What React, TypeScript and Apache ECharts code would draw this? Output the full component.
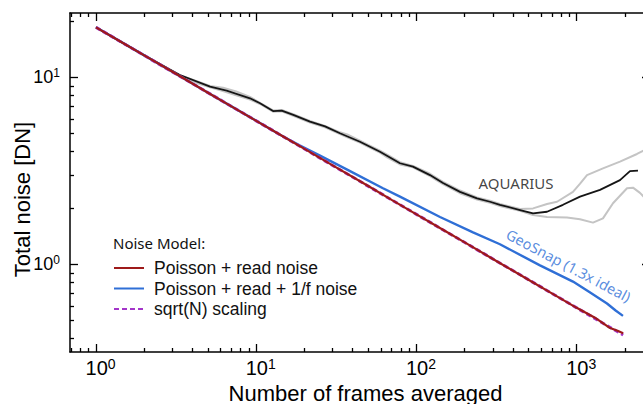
import React, { useEffect, useRef } from "react";
import * as echarts from "echarts";

// ---------- data ----------
const poissonN = [1, 1.5, 2, 3, 5, 7, 10, 15, 20, 30, 50, 70, 100, 150, 200, 300, 500, 700, 1000, 1300, 1600, 1800, 1950];
const poissonV = [18.5, 15.1, 13.1, 10.7, 8.27, 6.99, 5.85, 4.78, 4.14, 3.38, 2.62, 2.21, 1.85, 1.51, 1.31, 1.068, 0.827, 0.699, 0.585, 0.518, 0.458, 0.441, 0.428];

const sqrtN = [1, 10, 100, 1000, 1950];
const sqrtV = [18.5, 5.85, 1.85, 0.585, 0.419];

const oneOverFN = [1, 2, 3.34, 5, 7, 10, 14.07, 18.76, 25, 38.5, 61.8, 78.9, 140.3, 225.4, 332, 590, 948, 1200, 1546, 1750, 1945];
const oneOverFV = [18.5, 13.1, 10.12, 8.27, 6.99, 5.85, 4.93, 4.32, 3.81, 3.15, 2.55, 2.3, 1.79, 1.48, 1.28, 0.987, 0.808, 0.71, 0.617, 0.566, 0.53];

const aquariusN = [1, 2, 3.34, 5.15, 6.54, 9.14, 10.56, 12.73, 14.42, 17.03, 21.65, 26.87, 33.3, 44.4, 59.2, 78.9, 95.1, 121.5, 146.4, 187, 238.7, 287.7, 332, 443, 534, 653, 821, 1049, 1398, 1863, 2151, 2413];
const aquariusV = [18.5, 13.1, 10.29, 8.91, 8.48, 7.72, 7.26, 6.6, 6.64, 6.29, 5.79, 5.46, 5.02, 4.52, 4.0, 3.47, 3.33, 3.0, 2.72, 2.44, 2.25, 2.16, 2.08, 1.95, 1.87, 1.91, 2.08, 2.3, 2.5, 2.82, 3.15, 3.17];

const aquariusHiN = [1, 2, 3.34, 4.3, 5.15, 6.2, 7.5, 9.14, 10.56, 12.73, 14.42, 17.03, 21.65, 26.87, 33.3, 37, 44.4, 50, 59.2, 66, 78.9, 95.1, 121.5, 146.4, 187, 238.7, 287.7, 332, 443, 534, 653, 754, 948, 1050, 1160, 1459, 1863, 2379, 2669];
const aquariusHiV = [18.5, 13.1, 10.25, 9.5, 8.98, 8.8, 8.4, 7.85, 7.3, 6.65, 6.68, 6.35, 5.85, 5.5, 5.08, 4.95, 4.58, 4.35, 4.05, 3.85, 3.52, 3.36, 3.05, 2.76, 2.48, 2.28, 2.19, 2.1, 1.975, 1.99, 2.1, 2.16, 2.44, 2.7, 3.0, 3.26, 3.54, 3.89, 4.09];

const aquariusLoN = [1, 2, 3.34, 4.3, 5.15, 6.2, 7.5, 9.14, 10.56, 12.73, 14.42, 17.03, 21.65, 26.87, 33.3, 37, 44.4, 50, 59.2, 66, 78.9, 95.1, 121.5, 146.4, 187, 238.7, 287.7, 332, 443, 534, 653, 870, 1049, 1264, 1459, 1685, 2061, 2246, 2483, 2669];
const aquariusLoV = [18.5, 13.05, 10.15, 9.3, 8.85, 8.45, 8.0, 7.6, 7.2, 6.55, 6.58, 6.22, 5.72, 5.4, 4.97, 4.78, 4.47, 4.25, 3.95, 3.72, 3.42, 3.3, 2.96, 2.68, 2.4, 2.22, 2.13, 2.05, 1.93, 1.835, 1.79, 1.78, 1.74, 1.67, 1.76, 2.12, 2.55, 2.57, 2.41, 2.26];

// annotation anchors (data coordinates)
const aquariusLabelAt = [418, 2.72];
const geoSnapLabelAt = [889, 0.985];

// ticks
const xMajorTicks = [1, 10, 100, 1000];
const xMinorTicks = [0.7, 0.8, 0.9, 2, 3, 4, 5, 6, 7, 8, 9, 20, 30, 40, 50, 60, 70, 80, 90, 200, 300, 400, 500, 600, 700, 800, 900, 2000];
const yMajorTicks = [1, 10];
const yMinorTicks = [0.4, 0.5, 0.6, 0.7, 0.8, 0.9, 2, 3, 4, 5, 6, 7, 8, 9, 20];

const legendNames = ["Poisson + read noise", "Poisson + read + 1/f noise", "sqrt(N) scaling"];

const X_MIN = 0.688;
const X_MAX = 2868;
const Y_MIN = 0.3396;
const Y_MAX = 22.07;

const RED = "#9e1a1a";
const BLUE = "#2f6fd6";
const PURPLE = "#a335c9";

const FONT = "'Liberation Sans', Arial, sans-serif";
const NOTO = "'Noto Sans', 'Open Sans', sans-serif";

const zip = (a: number[], b: number[]) => a.map((v, i) => [v, b[i]]);
const expOf = (v: number) => Math.round(Math.log10(v));

function makeAxis(dim: "x" | "y", position: string, ticks: number[], len: number, showLine: boolean, labels: boolean): any {
  const isX = dim === "x";
  return {
    type: "log",
    logBase: 10,
    position,
    min: isX ? X_MIN : Y_MIN,
    max: isX ? X_MAX : Y_MAX,
    axisLine: { show: showLine, onZero: false, lineStyle: { color: "#000", width: 1.5 } },
    axisTick: {
      show: true,
      inside: true,
      length: len,
      customValues: ticks,
      lineStyle: { color: "#000", width: 1.3 },
    },
    minorTick: { show: false },
    splitLine: { show: false },
    minorSplitLine: { show: false },
    axisLabel: labels
      ? {
          show: true,
          customValues: ticks,
          margin: isX ? 5 : 10,
          color: "#000",
          formatter: (v: number) => (isX ? `{p|}{b|10}{s|${expOf(v)}}` : `{b|10}{s|${expOf(v)}}`),
          rich: isX
            ? {
                p: { width: 9 },
                b: { fontSize: 20, fontFamily: FONT, color: "#000", lineHeight: 22 },
                s: { fontSize: 14, fontFamily: FONT, color: "#000", verticalAlign: "top", lineHeight: 14 },
              }
            : {
                b: { fontSize: 18, fontFamily: FONT, color: "#000", lineHeight: 20 },
                s: { fontSize: 12, fontFamily: FONT, color: "#000", verticalAlign: "top", lineHeight: 12 },
              },
        }
      : { show: false },
  };
}

export default function App() {
  const ref = useRef<HTMLDivElement>(null);

  useEffect(() => {
    if (!ref.current) return;
    const chart = echarts.init(ref.current, undefined, { renderer: "svg" });

    const option: any = {
      animation: false,
      backgroundColor: "#fff",
      grid: { left: 70, top: 13, width: 580, height: 339, containLabel: false, outerBoundsMode: "none" },
      xAxis: [
        makeAxis("x", "bottom", xMajorTicks, 8, true, true),
        makeAxis("x", "bottom", xMinorTicks, 4, false, false),
        makeAxis("x", "top", xMajorTicks, 8, true, false),
        makeAxis("x", "top", xMinorTicks, 4, false, false),
      ],
      yAxis: [
        makeAxis("y", "left", yMajorTicks, 8, true, true),
        makeAxis("y", "left", yMinorTicks, 4, false, false),
        makeAxis("y", "right", yMajorTicks, 8, true, false),
        makeAxis("y", "right", yMinorTicks, 4, false, false),
      ],
      legend: {
        orient: "vertical",
        left: 113,
        top: 259,
        padding: 0,
        itemWidth: 30,
        itemHeight: 14,
        itemGap: 2.5,
        selectedMode: false,
        data: legendNames,
        itemStyle: { opacity: 0 },
        textStyle: { fontSize: 17.5, fontFamily: FONT, color: "#111", lineHeight: 14, padding: [0, 0, 0, 5] },
      },
      graphic: [
        {
          type: "text",
          x: 113,
          y: 243,
          style: { text: "Noise Model:", fontSize: 15, fontFamily: NOTO, fill: "#111", textVerticalAlign: "middle", textAlign: "left" },
        },
        {
          type: "text",
          x: 365.5,
          y: 393,
          style: { text: "Number of frames averaged", fontSize: 22, fontFamily: FONT, fill: "#000", textAlign: "center", textVerticalAlign: "middle" },
        },
        {
          type: "text",
          x: 22,
          y: 199.5,
          rotation: Math.PI / 2,
          style: { text: "Total noise [DN]", fontSize: 22, fontFamily: FONT, fill: "#000", textAlign: "center", textVerticalAlign: "middle" },
        },
      ],
      series: [
        {
          name: "AQUARIUS upper",
          type: "line",
          data: zip(aquariusHiN, aquariusHiV),
          symbol: "none",
          silent: true,
          lineStyle: { color: "#c4c4c4", width: 2 },
          z: 1,
        },
        {
          name: "AQUARIUS lower",
          type: "line",
          data: zip(aquariusLoN, aquariusLoV),
          symbol: "none",
          silent: true,
          lineStyle: { color: "#c4c4c4", width: 2 },
          z: 1,
        },
        {
          name: "AQUARIUS",
          type: "line",
          data: zip(aquariusN, aquariusV),
          symbol: "none",
          silent: true,
          lineStyle: { color: "#151515", width: 1.8 },
          z: 2,
        },
        {
          name: legendNames[1],
          type: "line",
          data: zip(oneOverFN, oneOverFV),
          symbol: "none",
          silent: true,
          itemStyle: { color: BLUE },
          lineStyle: { color: BLUE, width: 2.4 },
          z: 3,
        },
        {
          name: legendNames[2],
          type: "line",
          data: zip(sqrtN, sqrtV),
          symbol: "none",
          silent: true,
          itemStyle: { color: PURPLE },
          lineStyle: { color: PURPLE, width: 3, type: [5, 3] },
          z: 4,
        },
        {
          name: legendNames[0],
          type: "line",
          data: zip(poissonN, poissonV),
          symbol: "none",
          silent: true,
          itemStyle: { color: RED },
          lineStyle: { color: RED, width: 2.2 },
          z: 5,
        },
        {
          name: "labels-aquarius",
          type: "scatter",
          data: [aquariusLabelAt],
          symbolSize: 0,
          silent: true,
          label: {
            show: true,
            position: "inside",
            formatter: "AQUARIUS",
            fontSize: 15,
            fontFamily: NOTO,
            color: "#111",
          },
          z: 6,
        },
        {
          name: "labels-geosnap",
          type: "scatter",
          data: [geoSnapLabelAt],
          symbolSize: 0,
          silent: true,
          label: {
            show: true,
            position: "inside",
            rotate: -28,
            formatter: "GeoSnap (1.3x ideal)",
            fontSize: 14.5,
            fontFamily: NOTO,
            color: BLUE,
          },
          z: 6,
        },
      ],
    };

    chart.setOption(option);
    return () => chart.dispose();
  }, []);

  return <div ref={ref} style={{ position: "fixed", left: 0, top: 0, width: 643, height: 404, background: "#fff" }} />;
}
